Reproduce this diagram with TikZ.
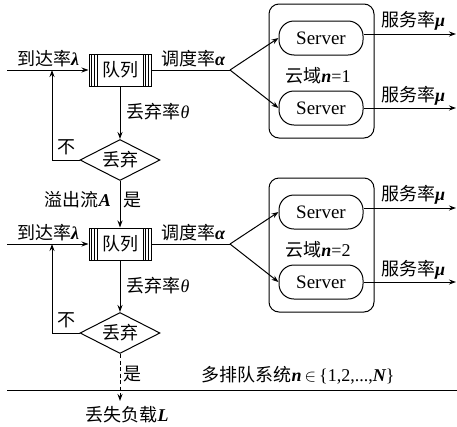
\documentclass[tikz,border=0pt]{standalone}
\usepackage{fontspec}
\setmainfont{Liberation Serif}
\newfontfamily\cjk{Noto Sans CJK SC}
\usetikzlibrary{arrows.meta,shapes.geometric,calc}
\newcommand{\mv}[1]{{\rmfamily\bfseries\itshape #1}}
\begin{document}
\begin{tikzpicture}[x=1pt,y=-1pt,line width=1pt,
  >={Stealth[length=7pt,width=5pt]},
  lbl/.style={font=\fontsize{18}{20}\selectfont\cjk,inner sep=0pt},
  queuebox/.style={draw,minimum width=62pt,minimum height=32pt,inner sep=0pt,
    font=\fontsize{18}{20}\selectfont\cjk,
    path picture={\foreach \d in {2.7,5.4,8.1}{
      \draw[line width=0.8pt] ([xshift=\d pt]path picture bounding box.south west) -- ([xshift=\d pt]path picture bounding box.north west);
      \draw[line width=0.8pt] ([xshift=-\d pt]path picture bounding box.south east) -- ([xshift=-\d pt]path picture bounding box.north east);}}},
  dia/.style={draw,diamond,aspect=2,minimum width=80pt,minimum height=41pt,inner sep=0pt,font=\fontsize{18}{20}\selectfont\cjk},
  srv/.style={draw,rounded corners=15pt,minimum width=84pt,minimum height=34pt,inner sep=0pt,font=\fontsize{19}{21}\selectfont},
  cloud/.style={draw,rounded corners=10pt,minimum width=105pt,minimum height=134pt,inner sep=0pt},
  dsh/.style={dash pattern=on 4pt off 2.5pt}]
\useasboundingbox (0,0) rectangle (457,426);

% ---------- row 1 ----------
\node[queuebox] (q1) at (120,70) {队列};
\node[cloud] (c1) at (321.5,71) {};
\node[srv] (s11) at (321,38) {Server};
\node[srv] (s12) at (321,108) {Server};
\node[lbl] (cl1) at (318,76) {云域\mv{n}\rmfamily=1};
\node[dia] (d1) at (120,160) {丢弃};
\coordinate (in1) at (7,70);
\coordinate (sp1) at (230,70);
\coordinate (j1) at (52,70);
\coordinate (o11) at (456,34);
\coordinate (o12) at (456,108);

\draw[->] (in1) -- (q1.west);
\draw (q1.east) -- (sp1);
\draw[->] (sp1) -- (s11.west);
\draw[->] (sp1) -- (s12.west);
\draw[->] (s11.east |- o11) -- (o11);
\draw[->] (s12.east) -- (o12);
\draw[->] (q1.south) -- (d1.north);
\draw[->] (d1.west) -| (j1);

\node[lbl] (l11) at (48,59) {到达率\mv{λ}};
\node[lbl] (l12) at (193,59) {调度率\mv{α}};
\node[lbl] (l13) at (413,21) {服务率\mv{μ}};
\node[lbl] (l14) at (413,96) {服务率\mv{μ}};
\node[lbl] (l15) at (158,112) {丢弃率{\rmfamily\itshape θ}};
\node[lbl] (l16) at (66,147) {不};

% ---------- link ----------
\node[queuebox] (q2) at (120,244) {队列};
\draw[->] (d1.south) -- (q2.north);
\node[lbl] (l21) at (78,200) {溢出流\mv{A}};
\node[lbl] (l22) at (132,200) {是};

% ---------- row 2 ----------
\node[cloud] (c2) at (321.5,245) {};
\node[srv] (s21) at (321,212) {Server};
\node[srv] (s22) at (321,282) {Server};
\node[lbl] (cl2) at (318,250) {云域\mv{n}\rmfamily=2};
\node[dia] (d2) at (120,333) {丢弃};
\coordinate (in2) at (7,244);
\coordinate (sp2) at (230,244);
\coordinate (j2) at (52,244);
\coordinate (o21) at (456,208);
\coordinate (o22) at (456,282);
\coordinate (lost) at (120,401);

\draw[->] (in2) -- (q2.west);
\draw (q2.east) -- (sp2);
\draw[->] (sp2) -- (s21.west);
\draw[->] (sp2) -- (s22.west);
\draw[->] (s21.east |- o21) -- (o21);
\draw[->] (s22.east) -- (o22);
\draw[->] (q2.south) -- (d2.north);
\draw[->] (d2.west) -| (j2);
\draw[->,dsh] (d2.south) -- (lost);

\node[lbl] (l31) at (48,233) {到达率\mv{λ}};
\node[lbl] (l32) at (193,233) {调度率\mv{α}};
\node[lbl] (l33) at (413,195) {服务率\mv{μ}};
\node[lbl] (l34) at (413,270) {服务率\mv{μ}};
\node[lbl] (l35) at (158,286) {丢弃率{\rmfamily\itshape θ}};
\node[lbl] (l36) at (66,320) {不};
\node[lbl] (l37) at (132,374) {是};

% ---------- bottom ----------
\coordinate (h1) at (7,390);
\coordinate (h2) at (457,390);
\draw (h1) -- (h2);
\node[lbl] (sys) at (298,375) {多排队系统\mv{n}\,{\rmfamily$\in$\,\{1,2,...,\mv{N}\}}};
\node[lbl] (ll) at (127,415) {丢失负载\mv{L}};
\end{tikzpicture}
\end{document}
